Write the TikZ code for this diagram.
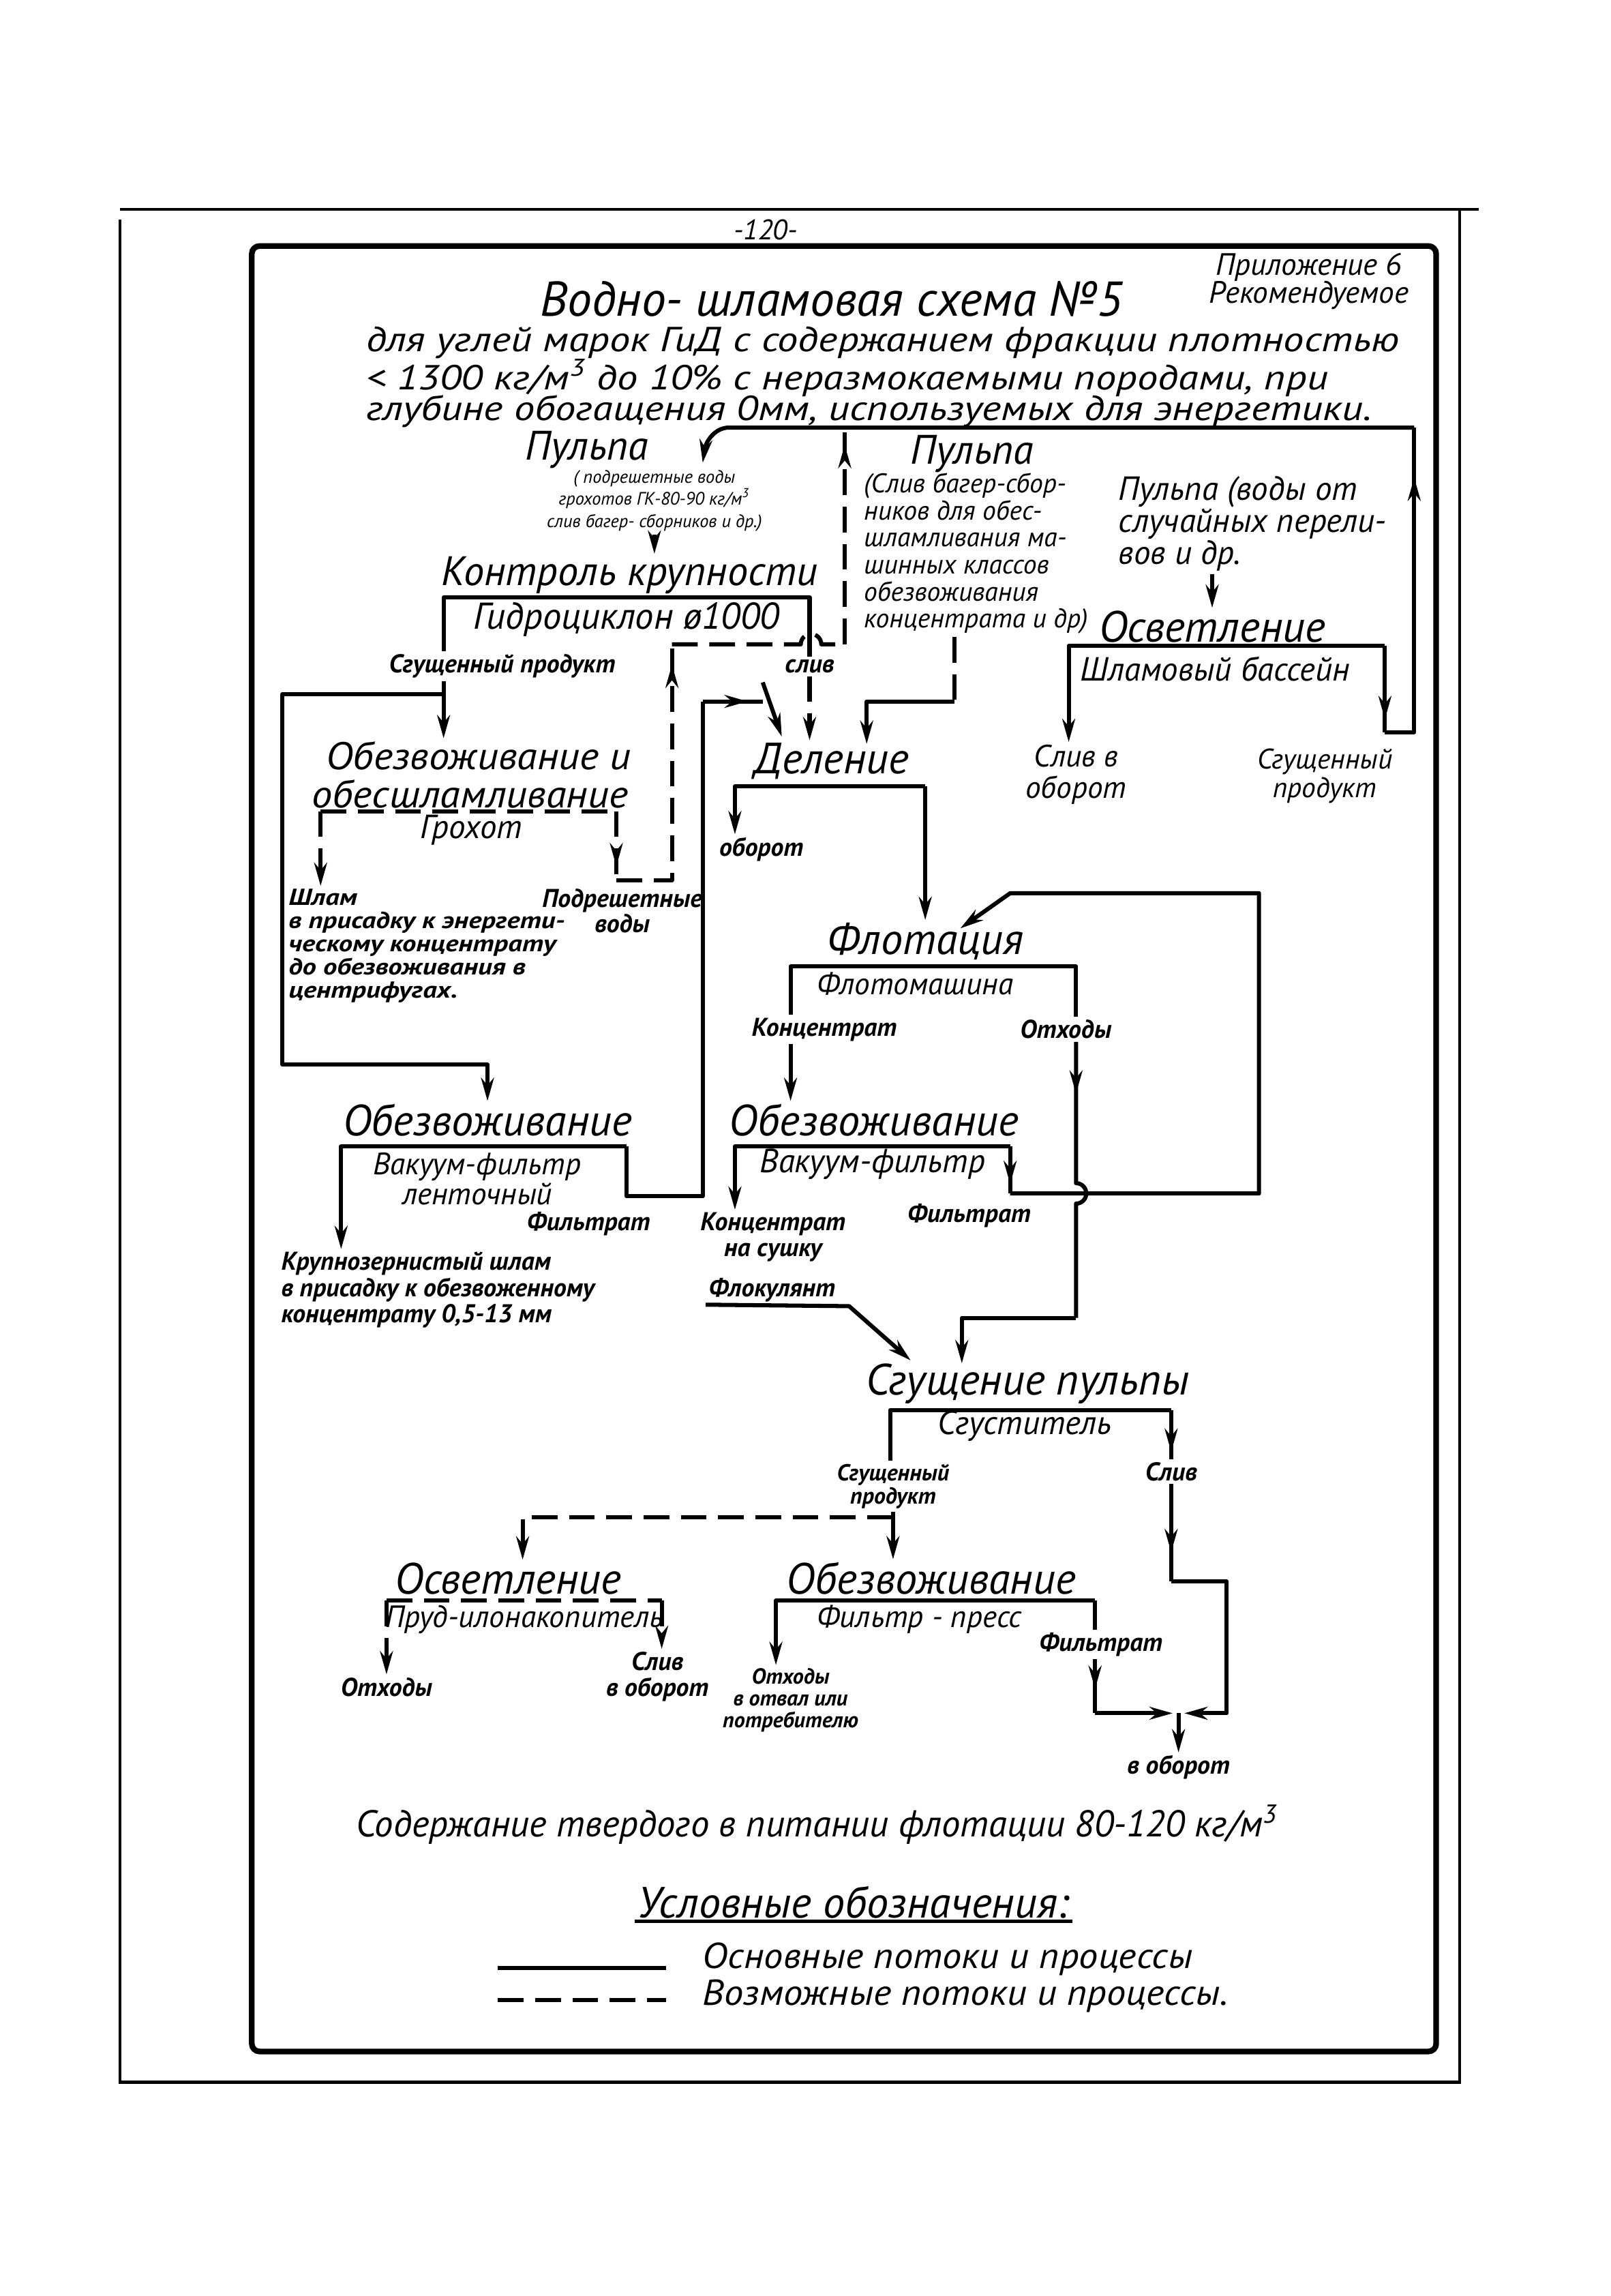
\documentclass[tikz,border=0pt]{standalone}
\usepackage{fontspec}
\setmainfont{PT Sans}
\newfontfamily\wfont[FakeStretch=1.2]{PT Sans}
\newfontfamily\sfont[FakeStretch=1.07]{PT Sans}
\newfontfamily\tfont[FakeStretch=1.19]{PT Sans}
\usetikzlibrary{arrows.meta,decorations.markings}
\setlength{\lineskiplimit}{-20pt}

\begin{document}
\begin{tikzpicture}[
    x = 0.02cm, y = -0.02cm,
    every node/.style = {inner sep=1pt, font=\itshape},
    hd/.style = {font=\fontsize{17}{17}\selectfont\itshape},
    un/.style = {font=\fontsize{13}{11}\selectfont\itshape, align=center},
    lb/.style = {font=\fontsize{10}{10}\selectfont\bfseries\itshape, align=center},
    ds/.style = {font=\fontsize{7}{8.6}\selectfont\itshape, align=center},
    ln/.style = {line width=1.6pt, line join=round},
    flow/.style = {ln, -{Stealth[length=9pt,width=5pt]}},
    dsh/.style = {dash pattern=on 10pt off 4.5pt},
    midarr/.style = {postaction={decorate}, decoration={markings,
        mark=at position #1 with {\arrow{Stealth[length=9pt,width=5pt]}}}},
  ]
  \useasboundingbox (0,0) rectangle (1100,1568);

  % page frame
  \draw[line width=1.2pt] (82,143) -- (1010,143);
  \draw[line width=1.2pt] (82,150) -- (82,1422) -- (997,1422) -- (997,143);
  \draw[line width=2.2pt, rounded corners=3pt] (172,168) rectangle (981,1401);

  % header
  \node[font=\fontsize{11}{11}\selectfont\itshape] (pg) at (523,157) {-120-};
  \node[font=\fontsize{12}{11}\selectfont\itshape, align=center] (app) at (894,192) {Приложение 6\\Рекомендуемое};
  \node[font=\fontsize{19}{19}\selectfont\itshape] (title) at (568,204) {Водно- шламовая схема №5};
  \node[font=\fontsize{13.5}{13.5}\selectfont\tfont\itshape, anchor=west] (sub1) at (248,234) {для углей марок ГиД с содержанием фракции плотностью};
  \node[font=\fontsize{13.5}{13.5}\selectfont\tfont\itshape, anchor=west] (sub2) at (248,258) {< 1300 кг/м\textsuperscript{3} до 10\% с неразмокаемыми породами, при};
  \node[font=\fontsize{13.5}{13.5}\selectfont\tfont\itshape, anchor=west] (sub3) at (248,281) {глубине обогащения 0мм, используемых для энергетики.};

  % left pulp and hydrocyclone
  \node[font=\fontsize{16}{16}\selectfont\itshape] (p1) at (401,307) {Пульпа};
  \node[ds] (p1d) at (447,342) {( подрешетные воды\\грохотов ГК-80-90 кг/м\textsuperscript{3}\\слив багер- сборников и др.)};
  \node[hd, font=\fontsize{16}{16}\selectfont\itshape] (kk) at (430,393) {Контроль крупности};
  \node[un, font=\fontsize{14.5}{13}\selectfont\itshape] (gc) at (428,423) {Гидроциклон ø1000};
  \node[lb] (sg1) at (343,455) {Сгущенный продукт};
  \node[lb] (sliv1) at (553,455) {слив};
  \draw[flow] (p1d.south) -- (p1d.south |- kk.north);
  \coordinate (gcL) at (303,408);
  \coordinate (gcR) at (553,408);
  \draw[ln] (gcL |- sg1.north) -- (gcL) -- (gcR) -- (gcR |- sliv1.north);

  % dewatering and desliming
  \node[font=\fontsize{15}{15}\selectfont\sfont\itshape] (oo1) at (327,516) {Обезвоживание и};
  \node[font=\fontsize{15}{15}\selectfont\sfont\itshape] (oo2) at (321,542) {обесшламливание};
  \draw[flow] (sg1.south -| gcL) -- (oo1.north -| gcL);
  \coordinate (br1) at (303,474);
  \node[hd] (ob1) at (333,765) {Обезвоживание};
  \draw[flow] (br1) -| (193,727) -| (ob1.north);

  % screen
  \node[un] (gr) at (322,567) {Грохот};
  \node[font=\fontsize{9}{9}\selectfont\wfont\bfseries\itshape, align=left, anchor=north west] (shl) at (195,605)
    {Шлам\\в присадку к энергети-\\ческому концентрату\\до обезвоживания в\\центрифугах.};
  \node[lb] (pv) at (425,622) {Подрешетные\\воды};
  \coordinate (grL) at (219,554);
  \coordinate (grR) at (421,554);
  \coordinate (grB) at (421,601);
  \coordinate (pvT) at (459,440);
  \coordinate (slC) at (577,440);
  \coordinate (topM) at (577,292);
  \draw[ln,dsh] (grL) -- (grR);
  \draw[flow,dsh] (grL) -- (grL |- shl.north);
  \draw[ln,dsh,midarr=.8] (grR) -- (grB);
  \draw[ln,dsh,midarr=.93] (grB) -| (pvT);
  \draw[ln,dsh] (pvT) -- (547,440) arc[start angle=180,end angle=360,radius=7] -- (slC);
  \draw[ln,dsh,midarr=.92] (slC) -- (topM);

  % division
  \node[hd] (del) at (568,520) {Деление};
  \node[lb] (obr) at (520,580) {оборот};
  \draw[flow,dsh] (sliv1.south) -- (sliv1.south |- del.north);
  \coordinate (ob1L) at (233,783);
  \coordinate (ob1R) at (428,783);
  \coordinate (fup) at (480,479);
  \coordinate (fj) at (521,479);
  \coordinate (fd1) at (521,466);
  \coordinate (fd2) at (534,503);
  \draw[ln] (ob1R) |- (480,817) -- (fup);
  \draw[ln,midarr=.75] (fup) -- (fj);
  \draw[flow] (fd1) -- (fd2);

  % middle pulp
  \node[font=\fontsize{16}{16}\selectfont\itshape] (p2) at (664,310) {Пульпа};
  \node[font=\fontsize{10.5}{10.5}\selectfont\itshape, align=left, anchor=north west] (p2d) at (588,321)
    {(Слив багер-сбор-\\ников для обес-\\шламливания ма-\\шинных классов\\обезвоживания\\концентрата и др)};
  \coordinate (p2b) at (652,479);
  \coordinate (dlin) at (592,508);
  \draw[ln,dsh] (p2d.south -| p2b) -- (p2b);
  \draw[flow] (p2b) -| (dlin);
  \coordinate (delL) at (502,537);
  \coordinate (delR) at (632,537);
  \node[hd] (fl) at (632,643) {Флотация};
  \draw[flow] (delR) -- (delL) -- (delL |- obr.north);
  \draw[flow] (delR) -- (delR |- fl.north);

  % flotation
  \node[un, font=\fontsize{12}{11}\selectfont\itshape] (fm) at (625,672) {Флотомашина};
  \node[lb] (kc) at (563,703) {Концентрат};
  \node[lb] (oth1) at (728,703) {Отходы};
  \coordinate (flL) at (540,660);
  \coordinate (flR) at (735,660);
  \node[hd] (ob2) at (597,765) {Обезвоживание};
  \draw[ln] (flL |- kc.north) -- (flL) -- (flR) -- (flR |- oth1.north);
  \draw[flow] (kc.south -| flL) -- (flL |- ob2.north);
  \coordinate (ot1) at (735,900);
  \coordinate (sgin) at (657,931);
  \draw[ln,midarr=.18] (oth1.south -| flR) -- (735,808) arc[start angle=-90,end angle=90,radius=7] -- (ot1);
  \draw[flow] (ot1) -| (sgin);

  % vacuum filters
  \node[un, font=\fontsize{12}{11.5}\selectfont\itshape] (vf1) at (326,805) {Вакуум-фильтр\\ленточный};
  \node[lb] (fil1) at (402,836) {Фильтрат};
  \node[lb, font=\fontsize{10}{10.2}\selectfont\bfseries\itshape, align=left, anchor=north west] (kz) at (190,853)
    {Крупнозернистый шлам\\в присадку к обезвоженному\\концентрату 0,5-13 мм};
  \draw[flow] (ob1R) -- (ob1L) -- (ob1L |- kz.north);
  \node[un] (vf2) at (596,795) {Вакуум-фильтр};
  \node[lb] (kns) at (528,845) {Концентрат\\на сушку};
  \node[lb] (fil2) at (662,830) {Фильтрат};
  \coordinate (ob2L) at (502,783);
  \coordinate (ob2R) at (690,783);
  \coordinate (rt1) at (690,815);
  \coordinate (flin) at (656,634);
  \draw[flow] (ob2R) -- (ob2L) -- (ob2L |- kns.north);
  \draw[ln,midarr=.8] (ob2R) -- (rt1);
  \draw[flow] (rt1) -- (860,815) -- (860,610) -- (690,610) -- (flin);

  % thickening
  \node[lb, anchor=south west] (flk) at (482,891) {Флокулянт};
  \coordinate (sgin2) at (622,929);
  \draw[flow] (flk.south west) -- (580,892) -- (sgin2);
  \node[hd] (sgp) at (702,945) {Сгущение пульпы};
  \node[un] (sgt) at (700,974) {Сгуститель};
  \node[lb, font=\fontsize{9}{9}\selectfont\bfseries\itshape] (sg2) at (610,1015) {Сгущенный\\продукт};
  \node[lb] (sl2) at (800,1005) {Слив};
  \coordinate (sgL) at (608,963);
  \coordinate (sgR) at (800,963);
  \draw[ln] (sgL |- sg2.north) -- (sgL) -- (sgR);
  \draw[ln,midarr=.85] (sgR) -- (sgR |- sl2.north);

  % lower clarification and filter press
  \node[hd] (osv) at (347,1078) {Осветление};
  \node[hd] (ob3) at (636,1078) {Обезвоживание};
  \coordinate (sgb) at (610,1036);
  \draw[flow] (sg2.south) -- (sg2.south |- ob3.north);
  \draw[flow,dsh] (sgb) -| ([xshift=0.2cm]osv.north);
  \node[un, font=\fontsize{12}{11}\selectfont\itshape] (pn) at (358,1106) {Пруд-илонакопитель};
  \node[lb] (oth2) at (264,1152) {Отходы};
  \node[lb] (sl3) at (449,1145) {Слив\\в оборот};
  \coordinate (osL) at (264,1093);
  \coordinate (osR) at (452,1093);
  \draw[ln,dsh] (osL) -- (osR);
  \draw[flow,dsh] (osL) -- (osL |- oth2.north);
  \draw[flow,dsh] (osR) -- (osR |- sl3.north);
  \node[un, font=\fontsize{12}{11}\selectfont\itshape] (fp) at (628,1106) {Фильтр - пресс};
  \node[lb, font=\fontsize{8.5}{8.5}\selectfont\bfseries\itshape] (oth3) at (540,1161) {Отходы\\в отвал или\\потребителю};
  \node[lb] (fil3) at (752,1123) {Фильтрат};
  \coordinate (ob3L) at (530,1093);
  \coordinate (ob3R) at (748,1093);
  \draw[flow] (ob3R) -- (ob3L) -- (ob3L |- oth3.north);
  \draw[ln] (ob3R) -- (ob3R |- fil3.north);
  \coordinate (fb) at (748,1170);
  \coordinate (sl2b) at (800,1080);
  \coordinate (mg) at (805,1170);
  \coordinate (mgL) at (801,1170);
  \coordinate (mgR) at (809,1170);
  \node[lb] (vob) at (805,1207) {в оборот};
  \draw[ln,midarr=.55] (fil3.south -| ob3R) -- (fb);
  \draw[flow] (fb) -- (mgL);
  \draw[ln,midarr=.7] (sl2.south) -- (sl2b);
  \draw[flow] (sl2b) -- (838,1080) -- (838,1170) -- (mgR);
  \draw[flow] (mg) -- (mg |- vob.north);

  % right pulp and sludge pool
  \node[font=\fontsize{13}{12.5}\selectfont\itshape, align=left, anchor=north west] (p3) at (762,323)
    {Пульпа (воды от\\случайных перели-\\вов и др.};
  \node[hd] (osv2) at (828,428) {Осветление};
  \draw[flow] (osv2.north |- p3.south) -- (osv2.north);
  \node[un] (shb) at (830,457) {Шламовый бассейн};
  \node[font=\fontsize{12}{12}\selectfont\itshape, align=center] (sl4) at (735,529) {Слив в\\оборот};
  \node[font=\fontsize{11}{11}\selectfont\itshape, align=center] (sg4) at (905,530) {Сгущенный\\продукт};
  \coordinate (osv2L) at (730,441);
  \coordinate (osv2R) at (946,441);
  \coordinate (lp1) at (946,500);
  \coordinate (lp3) at (966,292);
  \coordinate (lp4) at (498,292);
  \coordinate (p1in) at (480,316);
  \draw[flow] (osv2R) -- (osv2L) -- (osv2L |- sl4.north);
  \draw[ln,midarr=.85] (osv2R) -- (lp1);
  \draw[ln,midarr=.85] (lp1) -| (lp3);
  \draw[flow] (lp3) -- (lp4) .. controls (488,292) and (482,302) .. (p1in);

  % notes and legend
  \node[font=\fontsize{14.5}{14.5}\selectfont\itshape] (sod) at (558,1246) {Содержание твердого в питании флотации 80-120 кг/м\textsuperscript{3}};
  \node[font=\fontsize{17}{17}\selectfont\itshape] (uo) at (583,1299) {Условные обозначения:};
  \draw[line width=1.4pt] (uo.south west) -- (uo.south east);
  \node[font=\fontsize{14}{14}\selectfont\sfont\itshape, anchor=west] (lg1) at (478,1338) {Основные потоки и процессы};
  \node[font=\fontsize{14}{14}\selectfont\sfont\itshape, anchor=west] (lg2) at (478,1363) {Возможные потоки и процессы.};
  \draw[ln] (340,1344) -- (455,1344);
  \draw[ln,dsh] (340,1366) -- (455,1366);
\end{tikzpicture}
\end{document}
